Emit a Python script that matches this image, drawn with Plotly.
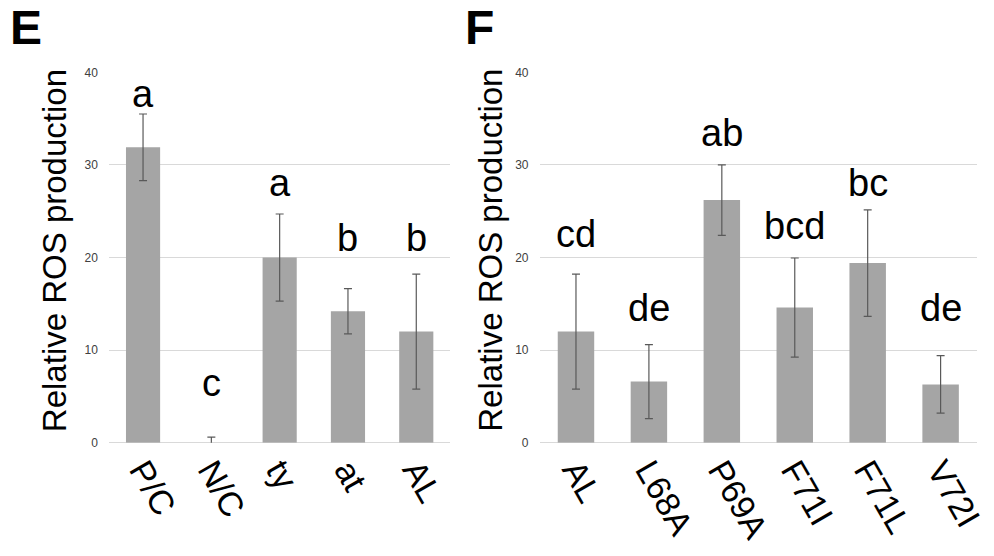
import plotly.graph_objects as go

# Panel E data
cats_e = ["P/C", "N/C", "ty", "at", "AL"]
vals_e = [31.9, 0.0, 20.0, 14.2, 12.0]
errs_e = [3.6, 0.6, 4.7, 2.45, 6.2]
letters_e = ["a", "c", "a", "b", "b"]
letter_y_e = [37.7, 6.5, 28.1, 22.1, 22.1]

# Panel F data
cats_f = ["AL", "L68A", "P69A", "F71I", "F71L", "V72I"]
vals_f = [12.0, 6.6, 26.2, 14.6, 19.4, 6.3]
errs_f = [6.2, 4.0, 3.8, 5.35, 5.75, 3.1]
letters_f = ["cd", "de", "ab", "bcd", "bc", "de"]
letter_y_f = [22.5, 14.6, 33.4, 23.4, 28.1, 14.6]

y_ticks = [0, 10, 20, 30, 40]

BAR = "#a5a5a5"
ERR = "#595959"
GRID = "#d9d9d9"
FONT = "Liberation Sans, Arial, sans-serif"

W, H = 994, 556

fig = go.Figure()

fig.add_trace(go.Bar(
    x=cats_e, y=vals_e, marker=dict(color=BAR, line=dict(width=0)),
    error_y=dict(type="data", array=errs_e, color=ERR, thickness=1.2, width=4),
    xaxis="x", yaxis="y", showlegend=False,
))
fig.add_trace(go.Bar(
    x=cats_f, y=vals_f, marker=dict(color=BAR, line=dict(width=0)),
    error_y=dict(type="data", array=errs_f, color=ERR, thickness=1.2, width=4),
    xaxis="x2", yaxis="y2", showlegend=False,
))

ydom = [1 - 447 / H, 1 - 67 / H]

axis_x_common = dict(
    type="category", showgrid=False, showline=False, ticks="", zeroline=False,
    tickangle=60, tickfont=dict(family=FONT, size=34, color="black"),
)
axis_y_common = dict(
    range=[0, 40], tickvals=y_ticks, showgrid=True, gridcolor=GRID, gridwidth=1,
    zeroline=True, zerolinecolor=GRID, zerolinewidth=1, showline=False, ticks="",
    tickfont=dict(family=FONT, size=12, color="#404040"), ticklabelstandoff=10,
)

fig.update_layout(
    width=W, height=H,
    margin=dict(l=0, r=0, t=0, b=0),
    paper_bgcolor="white", plot_bgcolor="white",
    bargap=0.5,
    xaxis=dict(domain=[110 / W, 455 / W], anchor="y", **axis_x_common),
    yaxis=dict(domain=ydom, anchor="x", **axis_y_common),
    xaxis2=dict(domain=[545 / W, 987 / W], anchor="y2", **axis_x_common),
    yaxis2=dict(domain=ydom, anchor="x2", **axis_y_common),
)

annotations = []
for c, ly, t in zip(cats_e, letter_y_e, letters_e):
    annotations.append(dict(x=c, y=ly, xref="x", yref="y", text=t, showarrow=False,
                            font=dict(family=FONT, size=38, color="black"), yanchor="middle"))
for c, ly, t in zip(cats_f, letter_y_f, letters_f):
    annotations.append(dict(x=c, y=ly, xref="x2", yref="y2", text=t, showarrow=False,
                            font=dict(family=FONT, size=38, color="black"), yanchor="middle"))

# y-axis titles
for xc in [55, 496]:
    annotations.append(dict(x=xc / W, y=1 - 250 / H, xref="paper", yref="paper",
                            text="Relative ROS production", textangle=-90, showarrow=False,
                            font=dict(family=FONT, size=33, color="black"),
                            xanchor="center", yanchor="middle"))

# panel labels
for xl, lab in [(8, "E"), (468, "F")]:
    annotations.append(dict(x=xl / W, y=1 + 8 / H, xref="paper", yref="paper",
                            text="<b>" + lab + "</b>", showarrow=False,
                            font=dict(family=FONT, size=48, color="black"),
                            xanchor="left", yanchor="top"))

fig.update_layout(annotations=annotations)

fig.write_html("out.html")
